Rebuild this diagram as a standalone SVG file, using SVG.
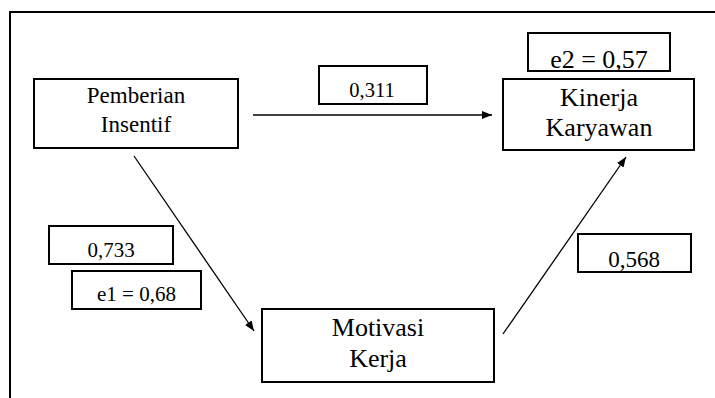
<svg xmlns="http://www.w3.org/2000/svg" width="715" height="398" viewBox="0 0 715 398">
<style>
.box{fill:#fff;stroke:#000;stroke-width:2}
.lbl{fill:#fff;stroke:#000;stroke-width:2}
text{font-family:"Liberation Serif","Times New Roman",serif;fill:#000;text-anchor:middle}
.conn{stroke:#000;stroke-width:1.3;fill:none;marker-end:url(#ah)}
</style>
<defs>
<marker id="ah" viewBox="0 0 10 8" refX="10" refY="4" markerWidth="10" markerHeight="8" markerUnits="userSpaceOnUse" orient="auto">
<path d="M0,0 L10,4 L0,8 Z" fill="#000"/>
</marker>
</defs>
<rect width="715" height="398" fill="#fff"/>
<path d="M10,398 V12 H716" fill="none" stroke="#000" stroke-width="2"/>
<g id="connectors">
<line class="conn" x1="253" y1="115" x2="492" y2="115"/>
<line class="conn" x1="134" y1="156" x2="254" y2="331"/>
<line class="conn" x1="503" y1="334" x2="626" y2="157"/>
</g>
<g id="pemberian">
<rect class="box" x="34" y="79" width="204" height="69"/>
<text x="136" y="103" font-size="23">Pemberian</text>
<text x="136" y="132" font-size="23">Insentif</text>
</g>
<g id="kinerja">
<rect class="box" x="503" y="79" width="191" height="71"/>
<text x="599" y="106" font-size="26">Kinerja</text>
<text x="599" y="136" font-size="26">Karyawan</text>
</g>
<g id="motivasi">
<rect class="box" x="262" y="309" width="232" height="73"/>
<text x="378" y="336" font-size="26">Motivasi</text>
<text x="378" y="367" font-size="26">Kerja</text>
</g>
<g id="label-e2">
<rect class="lbl" x="528" y="33" width="142" height="38"/>
<text x="599" y="68" font-size="26">e2 = 0,57</text>
</g>
<g id="label-0311">
<rect class="lbl" x="319" y="66" width="108" height="38"/>
<text x="372" y="97" font-size="20.5">0,311</text>
</g>
<g id="label-0733">
<rect class="lbl" x="49" y="226" width="124" height="38"/>
<text x="111" y="257" font-size="21">0,733</text>
</g>
<g id="label-e1">
<rect class="lbl" x="72" y="271" width="129" height="38"/>
<text x="136.5" y="301" font-size="21">e1 = 0,68</text>
</g>
<g id="label-0568">
<rect class="lbl" x="578" y="234" width="113" height="38"/>
<text x="634" y="267" font-size="23">0,568</text>
</g>
</svg>
